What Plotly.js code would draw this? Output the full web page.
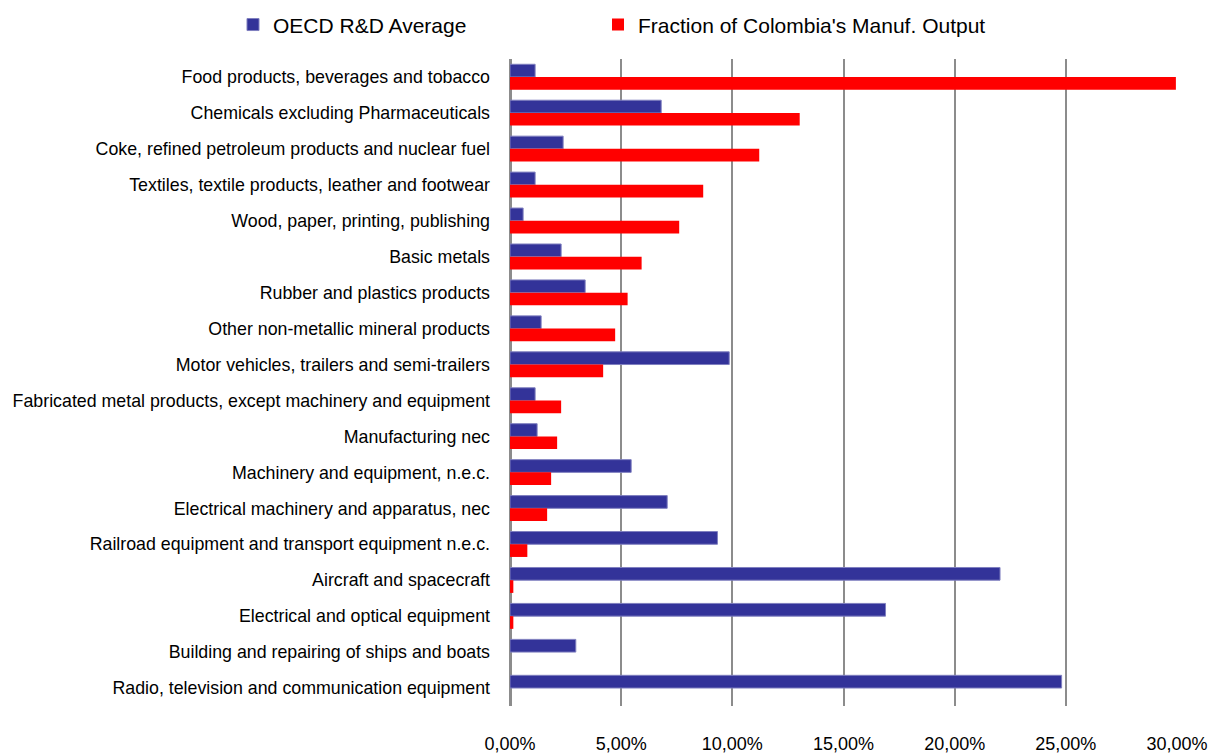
<!DOCTYPE html>
<html>
<head>
<meta charset="utf-8">
<script src="https://cdn.plot.ly/plotly-3.0.1.min.js"></script>
<style>html,body{margin:0;padding:0;background:#fff;}#chart{width:1212px;height:754px;}</style>
</head>
<body>
<div id="chart"></div>
<script>
const categories = [
  "Food products, beverages and tobacco",
  "Chemicals excluding Pharmaceuticals",
  "Coke, refined petroleum products and nuclear fuel",
  "Textiles, textile products, leather and footwear",
  "Wood, paper, printing, publishing",
  "Basic metals",
  "Rubber and plastics products",
  "Other non-metallic mineral products",
  "Motor vehicles, trailers and semi-trailers",
  "Fabricated metal products, except machinery and equipment",
  "Manufacturing nec",
  "Machinery and equipment, n.e.c.",
  "Electrical machinery and apparatus, nec",
  "Railroad equipment and transport equipment n.e.c.",
  "Aircraft and spacecraft",
  "Electrical and optical equipment",
  "Building and repairing of ships and boats",
  "Radio, television and communication equipment"
];
const oecdRD = [1.13, 6.80, 2.39, 1.13, 0.59, 2.30, 3.38, 1.40, 9.86, 1.13, 1.22, 5.45, 7.07, 9.33, 22.04, 16.89, 2.96, 24.81];
const colombiaShare = [29.95, 13.03, 11.21, 8.69, 7.61, 5.92, 5.29, 4.73, 4.19, 2.30, 2.12, 1.85, 1.67, 0.78, 0.15, 0.15, 0, 0];
const xTickVals = [0, 5, 10, 15, 20, 25, 30];
const xTickLabels = ["0,00%", "5,00%", "10,00%", "15,00%", "20,00%", "25,00%", "30,00%"];

const FONT = '"Liberation Sans", Arial, sans-serif';

const traces = [
  {
    type: 'bar', orientation: 'h', name: 'OECD R&D Average',
    y: categories, x: oecdRD, legend: 'legend',
    marker: {color: '#333399', line: {color: '#7f7fbf', width: 1}},
    hoverinfo: 'x+y'
  },
  {
    type: 'bar', orientation: 'h', name: "Fraction of Colombia's Manuf. Output",
    y: categories, x: colombiaShare, legend: 'legend2',
    marker: {color: '#FF0000', line: {width: 0}},
    hoverinfo: 'x+y'
  }
];

const legendBase = {
  orientation: 'h', xref: 'container', yref: 'container',
  xanchor: 'left', y: 0.967, yanchor: 'middle',
  font: {family: FONT, size: 21, color: '#000000'},
  bgcolor: 'rgba(0,0,0,0)', itemclick: false, itemdoubleclick: false
};

const layout = {
  width: 1212, height: 754,
  paper_bgcolor: '#ffffff', plot_bgcolor: '#ffffff',
  margin: {l: 510, r: 35, t: 59, b: 48},
  barmode: 'group', bargap: 0.293, bargroupgap: 0,
  font: {family: FONT, size: 17.8, color: '#000000'},
  showlegend: true,
  legend: Object.assign({}, legendBase, {x: 233 / 1212}),
  legend2: Object.assign({}, legendBase, {x: 598 / 1212}),
  xaxis: {
    range: [0, 30], tickmode: 'array', tickvals: xTickVals, ticktext: xTickLabels,
    showgrid: true, gridcolor: '#8c8c8c', gridwidth: 2,
    zeroline: true, zerolinecolor: '#8c8c8c', zerolinewidth: 3,
    showline: false, ticks: '', ticklabelstandoff: 25,
    tickfont: {family: FONT, size: 18, color: '#000000'},
    fixedrange: true
  },
  yaxis: {
    type: 'category', autorange: 'reversed',
    showgrid: false, zeroline: false, showline: false,
    ticks: '', ticklabelstandoff: 19,
    tickfont: {family: FONT, size: 17.8, color: '#000000'},
    fixedrange: true
  }
};

Plotly.newPlot('chart', traces, layout, {displayModeBar: false, staticPlot: true});
</script>
</body>
</html>
